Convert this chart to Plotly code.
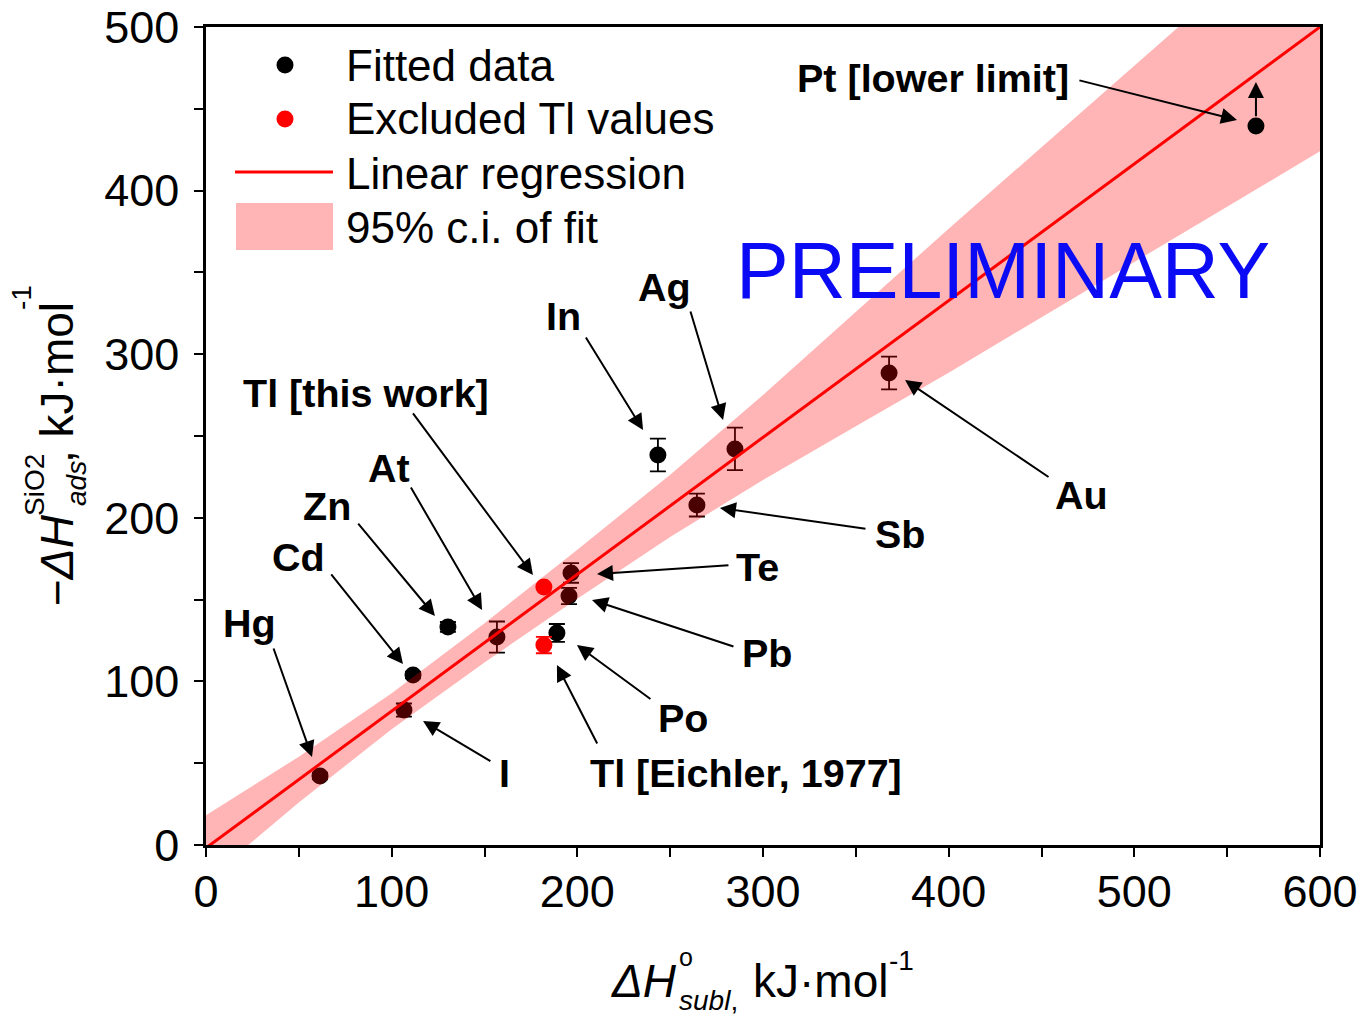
import plotly.graph_objects as go

# ---------------- data ----------------
fit_names = ["Hg", "I", "Cd", "Zn", "At", "Po", "Pb", "Te", "Sb", "In", "Ag", "Au"]
fit_x = [61.4, 106.6, 111.5, 130.3, 156.7, 189.0, 195.5, 196.6, 264.4, 243.4, 284.9, 367.9]
fit_y = [42.2, 82.5, 103.9, 133.3, 127.1, 129.6, 152.2, 166.3, 207.8, 238.4, 242.1, 288.5]
fit_err = [2, 4, 2, 3, 9.5, 5.5, 5, 6, 7, 10, 13, 10]

# Pt: lower limit only (fitted, drawn on top)
pt_names = ["Pt"]
pt_x = [565.5]
pt_y = [439.5]
pt_arrow_top = [466.4]

excl_names = ["Tl [this work]", "Tl [Eichler, 1977]"]
excl_x = [182.0, 182.0]
excl_y = [157.7, 122.2]
excl_err = [0, 5]

reg_x = [0, 600]
reg_y = [-1.8, 500]

band_x = [0, 50, 100, 150, 200, 250, 300, 350, 400, 450, 500, 550, 600]
band_hi = [18.2, 54.0, 92.8, 135.6, 180.5, 226.3, 275.1, 325.9, 376.7, 426.5, 476.4, 526.2, 576.0]
band_lo = [-21.8, 26.0, 70.8, 111.6, 150.5, 188.3, 223.1, 255.9, 288.7, 322.5, 356.4, 390.2, 424.0]

x_ticks = [0, 100, 200, 300, 400, 500, 600]
y_ticks = [0, 100, 200, 300, 400, 500]

# label text, label position, arrow tail, arrow head (data units)
labels = [
    ("Tl [this work]", 86.2, 276.3, 110.9, 264.7, 176.1, 165.0),
    ("At", 98.6, 230.4, 109.9, 219.4, 148.7, 143.6),
    ("Zn", 65.2, 207.2, 81.3, 197.4, 123.3, 140.0),
    ("Cd", 49.6, 176.0, 66.8, 166.3, 106.1, 110.6),
    ("Hg", 23.2, 135.7, 36.1, 121.0, 57.1, 53.8),
    ("In", 192.8, 323.3, 204.1, 311.1, 235.4, 253.7),
    ("Ag", 246.7, 341.1, 260.7, 327.0, 278.5, 259.8),
    ("Te", 297.3, 169.9, 282.2, 171.1, 210.6, 165.6),
    ("Pb", 302.2, 117.4, 284.9, 121.0, 207.9, 149.8),
    ("Po", 256.9, 77.6, 240.2, 88.6, 199.8, 122.2),
    ("I", 161.0, 44.0, 154.0, 50.7, 116.9, 75.8),
    ("Tl [Eichler, 1977]", 290.8, 44.0, 211.1, 61.1, 189.0, 110.0),
    ("Sb", 373.8, 190.1, 356.0, 193.2, 276.8, 206.0),
    ("Au", 471.3, 213.9, 454.6, 224.3, 376.5, 284.2),
    ("Pt [lower limit]", 391.6, 468.8, 469.6, 467.6, 555.3, 443.2),
]

FONT = "Liberation Sans, Arial, Helvetica, sans-serif"
W, H = 1361, 1018
L, R, T, B = 206, 1320, 27, 845


def PX(px):
    return (px - L) / (R - L)


def PY(py):
    return (B - py) / (B - T)


BAND = "rgba(255,0,0,0.29)"
fig = go.Figure()

fig.add_trace(go.Scatter(
    x=fit_x, y=fit_y, mode="markers", name="Fitted data", text=fit_names,
    marker=dict(color="black", size=17),
    error_y=dict(type="data", array=fit_err, color="black", thickness=1.8, width=8),
))
fig.add_trace(go.Scatter(
    x=excl_x, y=excl_y, mode="markers", name="Excluded Tl values", text=excl_names,
    marker=dict(color="#ff0000", size=17),
    error_y=dict(type="data", array=excl_err, color="#ff0000", thickness=1.8, width=8),
))
fig.add_trace(go.Scatter(
    x=band_x + band_x[::-1], y=band_hi + band_lo[::-1], mode="lines",
    fill="toself", fillcolor=BAND, line=dict(width=0),
    name="95% c.i. of fit", hoverinfo="skip",
))
fig.add_trace(go.Scatter(
    x=reg_x, y=reg_y, mode="lines", line=dict(color="#ff0000", width=3),
    name="Linear regression",
))
fig.add_trace(go.Scatter(
    x=pt_x, y=pt_y, mode="markers", name="Pt [lower limit]", text=pt_names,
    marker=dict(color="black", size=17),
))

ann = []
shapes = []

# point labels and arrows
for txt, lx, ly, tx, ty, hx, hy in labels:
    ann.append(dict(x=lx, y=ly, xref="x", yref="y", text=txt, showarrow=False,
                    font=dict(family=FONT, size=39.5, color="black", weight="bold"),
                    xanchor="center", yanchor="middle"))
    ann.append(dict(x=hx, y=hy, ax=tx, ay=ty, xref="x", yref="y", axref="x", ayref="y",
                    text="", showarrow=True, arrowhead=2, arrowsize=1.6, arrowwidth=2,
                    arrowcolor="black"))
# lower-limit arrow for Pt
ann.append(dict(x=pt_x[0], y=pt_arrow_top[0], ax=pt_x[0], ay=pt_y[0] + 5, xref="x", yref="y",
                axref="x", ayref="y", text="", showarrow=True, arrowhead=2, arrowsize=1.6,
                arrowwidth=2, arrowcolor="black"))

# PRELIMINARY
ann.append(dict(x=PX(1003), y=PY(270), xref="paper", yref="paper", text="PRELIMINARY",
                showarrow=False, font=dict(family=FONT, size=79, color="#0a0af5"),
                xanchor="center", yanchor="middle"))

# manual legend
leg_font = dict(family=FONT, size=44, color="black")
for txt, py in [("Fitted data", 65), ("Excluded Tl values", 119),
                ("Linear regression", 173), ("95% c.i. of fit", 227)]:
    ann.append(dict(x=PX(344), y=PY(py), xref="paper", yref="paper", text=txt,
                    showarrow=False, font=leg_font, xanchor="left", yanchor="middle"))
for col, py in [("black", 65), ("#ff0000", 119)]:
    shapes.append(dict(type="circle", xref="paper", yref="paper", xsizemode="pixel",
                       ysizemode="pixel", xanchor=PX(285), yanchor=PY(py),
                       x0=-8.5, x1=8.5, y0=-8.5, y1=8.5, fillcolor=col, line=dict(width=0)))
shapes.append(dict(type="line", xref="paper", yref="paper", x0=PX(235), x1=PX(333),
                   y0=PY(172), y1=PY(172), line=dict(color="#ff0000", width=3)))
shapes.append(dict(type="rect", xref="paper", yref="paper", x0=PX(236), x1=PX(333),
                   y0=PY(250), y1=PY(203), fillcolor=BAND, line=dict(width=0)))

# x axis title pieces
tf = 46
sf = 28
title_ann = [
    dict(x=PX(610), y=PY(981), text="<i>ΔH</i>", xanchor="left", font=dict(family=FONT, size=tf)),
    dict(x=PX(678), y=PY(957), text="o", xanchor="left", font=dict(family=FONT, size=25)),
    dict(x=PX(678), y=PY(1000), text="<i>subl</i>,", xanchor="left", font=dict(family=FONT, size=sf)),
    dict(x=PX(752), y=PY(981), text="kJ·mol", xanchor="left", font=dict(family=FONT, size=tf)),
    dict(x=PX(888), y=PY(960), text="-1", xanchor="left", font=dict(family=FONT, size=sf)),
    # y axis title pieces (rotated)
    dict(x=PX(57), y=PY(560), text="−<i>ΔH</i>", textangle=-90, font=dict(family=FONT, size=tf)),
    dict(x=PX(34), y=PY(485), text="SiO2", textangle=-90, font=dict(family=FONT, size=sf)),
    dict(x=PX(76), y=PY(484), text="<i>ads</i>", textangle=-90, font=dict(family=FONT, size=sf)),
    dict(x=PX(57), y=PY(383), text=", kJ·mol", textangle=-90, font=dict(family=FONT, size=tf)),
    dict(x=PX(21), y=PY(298), text="-1", textangle=-90, font=dict(family=FONT, size=sf)),
]
for a in title_ann:
    a.setdefault("xref", "paper")
    a.setdefault("yref", "paper")
    a.setdefault("showarrow", False)
    a.setdefault("xanchor", "center")
    a.setdefault("yanchor", "middle")
    a["borderpad"] = 0
    a["font"]["color"] = "black"
ann += title_ann

axis_common = dict(
    showgrid=False, zeroline=False, showline=True, linecolor="black", linewidth=2.5,
    mirror=True, ticks="outside", ticklen=9, tickwidth=2, tickcolor="black",
    tickfont=dict(family=FONT, size=45, color="black"), automargin=False,
)
fig.update_xaxes(range=[0, 600], tickvals=x_ticks, ticklabelstandoff=-4,
                 minor=dict(ticks="outside", ticklen=9, tickwidth=2, tickcolor="black",
                            tick0=0, dtick=50), **axis_common)
fig.update_yaxes(range=[0, 500], tickvals=y_ticks, ticklabelstandoff=6,
                 minor=dict(ticks="outside", ticklen=9, tickwidth=2, tickcolor="black",
                            tick0=0, dtick=50), **axis_common)

fig.update_layout(
    width=W, height=H, margin=dict(l=L, r=W - R, t=T, b=H - B, autoexpand=False),
    paper_bgcolor="white", plot_bgcolor="white", showlegend=False,
    annotations=ann, shapes=shapes, font=dict(family=FONT),
)

fig.write_html("out.html")
